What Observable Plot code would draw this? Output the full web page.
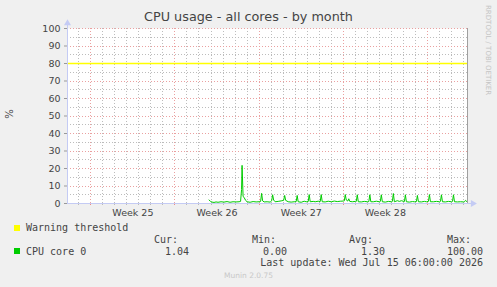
<!DOCTYPE html>
<html><head><meta charset="utf-8">
<script src="https://cdn.jsdelivr.net/npm/d3@7"></script>
<script src="https://cdn.jsdelivr.net/npm/@observablehq/plot@0.6"></script>
<style>
body{margin:0;background:#f0f0f0;}
#wrap{position:relative;width:497px;height:287px;overflow:hidden;font-family:"DejaVu Sans",sans-serif;color:#444;background:#f0f0f0}
#wrap svg{position:absolute;left:0;top:0}
.t{position:absolute;white-space:pre;line-height:1}
.mono{font-family:"DejaVu Sans Mono",monospace;font-size:10px}
.sq{position:absolute;width:6px;height:6px}
</style></head><body><div id="wrap"></div>
<script>
// ---- data ----
const title = "CPU usage - all cores - by month";
const yLabel = "%";
const yTicks = [0, 10, 20, 30, 40, 50, 60, 70, 80, 90, 100];
const weekLabels = ["Week 25", "Week 26", "Week 27", "Week 28"];
const weekStarts = ["2026-06-15", "2026-06-22", "2026-06-29", "2026-07-06", "2026-07-13"];
const rangeStart = "2026-06-13T01:30Z";
const rangeEnd = "2026-07-16T08:00Z";
const dataStart = "2026-06-24T20:00Z";
const hours = [0,3,6,10,14,18,24,30,36,42,48,54,60,63,65,66,68,70,73,76,82,88,94,100,103,105,107,110,116,122,125,127,129,132,138,144,149,151,153,158,164,170,174,176,178,184,190,194,198,200,202,208,212,218,222,224,226,232,238,244,250,256,262,268,270,272,274,277,279,281,286,292,294,296,298,304,310,316,319,321,323,328,334,340,342,344,346,352,358,364,366,368,370,376,380,384,390,392,394,400,406,410,414,416,418,424,430,434,438,440,442,448,454,460,462,464,466,472,478,484,486,488,490,496,502,508,510,512,515];
const cpu = [2.0,1.2,0.8,0.6,0.9,0.7,1.0,0.8,1.1,0.7,1.0,0.9,1.0,1.2,8,21.8,4,3.5,1.8,1.0,0.7,1.1,0.9,1.0,1.2,5.8,1.5,0.9,1.0,0.8,1.5,5.0,2.0,1.0,1.2,1.5,1.8,4.6,1.8,1.0,0.8,1.0,1.1,4.6,1.0,0.7,1.3,1.0,1.1,5.1,1.0,1.2,1.0,1.3,1.1,5.1,1.0,0.9,1.3,1.0,1.4,1.1,1.3,1.4,1.5,5.1,2.0,1.4,2.7,1.2,1.0,1.2,1.2,5.0,1.0,0.9,1.2,1.0,1.1,5.0,1.0,1.0,1.3,1.0,1.2,5.0,1.0,0.8,1.2,1.0,1.2,5.7,1.0,1.6,1.2,1.6,1.1,5.0,1.0,0.8,1.1,1.0,1.1,4.6,1.0,0.9,1.2,1.0,1.2,5.1,1.0,1.0,1.2,1.0,1.2,5.0,1.0,0.9,1.2,1.0,1.2,5.0,1.0,0.9,1.0,0.9,1.0,1.8,1.0];
const warning = 80;
const legendNames = ["Warning threshold", "CPU core 0"];
const legendCols = ["Cur:", "Min:", "Avg:", "Max:"];
const cpuStats = ["1.04", "0.00", "1.30", "100.00"];
const lastUpdate = "Last update: Wed Jul 15 06:00:00 2026";
const credit = "RRDTOOL / TOBI OETIKER";
const footer = "Munin 2.0.75";

// ---- derived ----
const t0 = new Date(rangeStart), t1 = new Date(rangeEnd);
const d0 = new Date(dataStart).getTime();
const series = hours.map((h, i) => ({t: new Date(d0 + h * 3600e3), v: cpu[i]}));
const mondays = weekStarts.map(s => new Date(s + "T00:00Z"));
const mondaySet = new Set(mondays.map(d => +d));
const days = d3.utcDay.range(d3.utcDay.ceil(t0), t1).filter(d => !mondaySet.has(+d));
const weekCenters = weekLabels.map((_, i) => new Date(+mondays[i] + 3.5 * 864e5));
const minorY = d3.range(5, 100, 10);
const majorY = yTicks.filter(v => v > 0);
const arrowEnd = new Date(+t1 + 0.45 * 864e5);
const inRangeMondays = mondays.filter(d => d < t1);

const gridGray = "#bcbcbc", gridRed = "#eaa0a0", axisBlue = "#c4cbf4";
const crisp = {shapeRendering: "crispEdges"};

const chart = Plot.plot({
  width: 497, height: 287,
  marginLeft: 67, marginRight: 30, marginTop: 28, marginBottom: 84,
  x: {type: "utc", domain: [t0, t1]},
  y: {domain: [0, 100]},
  style: {fontFamily: "DejaVu Sans", fontSize: "9px", background: "transparent", color: "#444", overflow: "visible"},
  marks: [
    Plot.frame({fill: "white", stroke: "none"}),
    Plot.ruleY(minorY, {stroke: gridGray, strokeDasharray: "1,2", ...crisp}),
    Plot.ruleX(days, {y1: 0, y2: 100, stroke: gridGray, strokeDasharray: "1,2", ...crisp}),
    Plot.ruleY(majorY, {stroke: gridRed, strokeDasharray: "1,2", ...crisp}),
    Plot.ruleX(inRangeMondays, {y1: 0, y2: 100, stroke: gridRed, strokeDasharray: "1,2", ...crisp}),
    Plot.ruleX(days, {y1: 0, y2: -1.3, stroke: "#bbb", ...crisp}),
    Plot.ruleX(inRangeMondays, {y1: 0, y2: -1.3, stroke: "#e88", ...crisp}),
    Plot.ruleY([warning], {stroke: "#ffff00", strokeWidth: 1.3}),
    Plot.line(series, {x: "t", y: "v", stroke: "#00cc00", strokeWidth: 1}),
    Plot.ruleX([t1], {y1: 0, y2: 100, stroke: "#a0a0a0", ...crisp}),
    Plot.ruleY([0], {x1: t0, x2: arrowEnd, stroke: axisBlue, ...crisp}),
    Plot.ruleX([t0], {y1: 0, y2: 103, stroke: axisBlue, ...crisp}),
    Plot.dot([0], {x: () => t0, y: () => 103, symbol: "triangle", r: 2.6, fill: axisBlue, stroke: "none"}),
    Plot.dot([0], {x: () => arrowEnd, y: () => 0, symbol: "triangle", r: 2.6, rotate: 90, fill: axisBlue, stroke: "none"}),
    Plot.axisY({ticks: yTicks, tickSize: 3, tickPadding: 4, label: null, stroke: "#999", fontSize: 9.5}),
    Plot.axisX({ticks: weekCenters, tickFormat: (d, i) => weekLabels[i], tickSize: 0, tickPadding: 6, label: null, fontSize: 9.5})
  ]
});

const wrap = document.getElementById("wrap");
wrap.appendChild(chart);

function addText(txt, cls, css) {
  const el = document.createElement("div");
  el.className = "t " + (cls || "");
  el.textContent = txt;
  Object.assign(el.style, css);
  wrap.appendChild(el);
  return el;
}
function addSq(color, left, top) {
  const el = document.createElement("div");
  el.className = "sq";
  Object.assign(el.style, {background: color, left: left + "px", top: top + "px"});
  wrap.appendChild(el);
}
addText(title, "", {left: "0px", width: "497px", textAlign: "center", top: "11px", fontSize: "12.8px", color: "#444"});
addText(yLabel, "", {left: "5px", top: "109px", fontSize: "10px", transform: "rotate(-90deg)", color: "#444"});
addText(credit, "", {left: "487px", top: "5px", fontSize: "7px", color: "#c4c4c4", transformOrigin: "0 0", transform: "rotate(90deg) translate(0,-4px)"});
addSq("#ffff00", 14, 225);
addText(legendNames[0], "mono", {left: "26px", top: "223px"});
const colX = [154, 252, 349, 447];
legendCols.forEach((c, i) => addText(c, "mono", {left: colX[i] + "px", top: "235px"}));
addSq("#00cc00", 14, 248);
addText(legendNames[1], "mono", {left: "26px", top: "246.5px"});
const valRight = [189, 287, 385, 483];
cpuStats.forEach((v, i) => addText(v, "mono", {right: (497 - valRight[i]) + "px", top: "246.5px"}));
addText(lastUpdate, "mono", {right: (497 - 483) + "px", top: "258px"});
addText(footer, "", {left: "0px", width: "497px", textAlign: "center", top: "272px", fontSize: "7.5px", color: "#c8c8c8"});
</script></body></html>
